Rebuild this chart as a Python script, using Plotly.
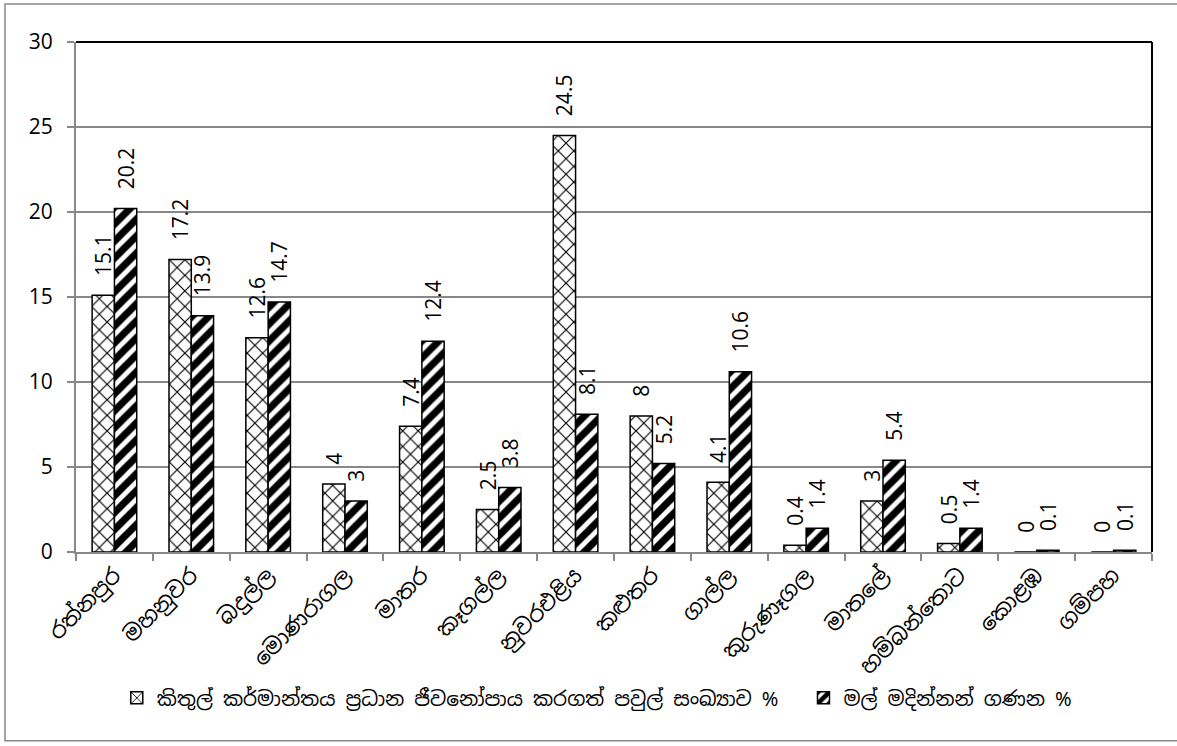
import plotly.graph_objects as go

categories = ["රත්නපුර", "මහනුවර", "බදුල්ල", "මොණරාගල", "මාතර", "කෑගල්ල", "නුවරඑළිය",
              "කළුතර", "ගාල්ල", "කුරුණෑගල", "මාතලේ", "හම්බන්තොට", "කොළඹ", "ගම්පහ"]
series1_name = "කිතුල් කර්මාන්තය ප්‍රධාන ජීවනෝපාය කරගත් පවුල් සංඛ්‍යාව %"
series1 = [15.1, 17.2, 12.6, 4, 7.4, 2.5, 24.5, 8, 4.1, 0.4, 3, 0.5, 0, 0]
series2_name = "මල් මදින්නන් ගණන %"
series2 = [20.2, 13.9, 14.7, 3, 12.4, 3.8, 8.1, 5.2, 10.6, 1.4, 5.4, 1.4, 0.1, 0.1]
y_ticks = [0, 5, 10, 15, 20, 25, 30]

FONT = "Noto Sans Sinhala, Iskoola Pota, Noto Sans, DejaVu Sans, sans-serif"
NUMFONT = "Open Sans, DejaVu Sans, sans-serif"
PAD = "\u00a0\u00a0\u00a0"  # gap between bar end and its rotated label


def labels(vals):
    return [PAD + str(v) for v in vals]


fig = go.Figure()
fig.add_trace(go.Bar(
    x=categories, y=series1, name=series1_name + "  ",
    marker=dict(color="white", line=dict(color="black", width=1.5),
                pattern=dict(shape="x", fgcolor="#000000", bgcolor="white", fgopacity=1,
                             size=11, solidity=0.2)),
    text=labels(series1), textposition="outside", textangle=-90,
    constraintext="none",
    textfont=dict(size=21, color="black", family=NUMFONT),
    cliponaxis=False,
))
fig.add_trace(go.Bar(
    x=categories, y=series2, name=series2_name,
    marker=dict(color="white", line=dict(color="black", width=1.5),
                pattern=dict(shape="/", fgcolor="#000000", bgcolor="white", fgopacity=1,
                             size=12, solidity=0.6)),
    text=labels(series2), textposition="outside", textangle=-90,
    constraintext="none",
    textfont=dict(size=21, color="black", family=NUMFONT),
    cliponaxis=False,
))

fig.update_layout(
    width=1177, height=746,
    margin=dict(l=76, r=25, t=42, b=194),
    paper_bgcolor="white", plot_bgcolor="white",
    barmode="group", bargap=0.42, bargroupgap=0,
    font=dict(family=FONT, color="black", size=16),
    legend=dict(orientation="h", x=0.484, xanchor="center", y=-0.286, yanchor="middle",
                font=dict(size=20, family=FONT), itemwidth=30,
                bgcolor="rgba(0,0,0,0)"),
    showlegend=True,
    shapes=[
        dict(type="rect", xref="paper", yref="paper", x0=-0.066, x1=1.06, y0=-0.37, y1=1.0745,
             line=dict(color="#888888", width=1.5), fillcolor="rgba(0,0,0,0)", layer="below"),
        dict(type="line", xref="paper", yref="paper", x0=0, x1=1, y0=1, y1=1,
             line=dict(color="black", width=2)),
        dict(type="line", xref="paper", yref="paper", x0=1, x1=1, y0=0, y1=1,
             line=dict(color="black", width=2)),
    ],
)
fig.update_xaxes(
    tickangle=-45, showgrid=False, showline=True, linecolor="#888888", linewidth=2,
    ticks="outside", tickcolor="#888888", ticklen=7, tickwidth=1.5, tickson="boundaries",
    tickfont=dict(size=22, family=FONT, color="black"),
)
fig.update_yaxes(
    range=[0, 30], tickvals=y_ticks, ticktext=[str(v) for v in y_ticks],
    showgrid=True, gridcolor="#888888", gridwidth=1.5,
    showline=True, linecolor="#888888", linewidth=2,
    ticks="outside", tickcolor="#888888", ticklen=7, tickwidth=1.5,
    ticklabelstandoff=10,
    tickfont=dict(size=21, family=NUMFONT, color="black"),
    zeroline=False,
)
fig.write_html("out.html", config={"displayModeBar": False},
               post_script="document.body.style.margin='0';document.body.style.overflow='hidden';")
